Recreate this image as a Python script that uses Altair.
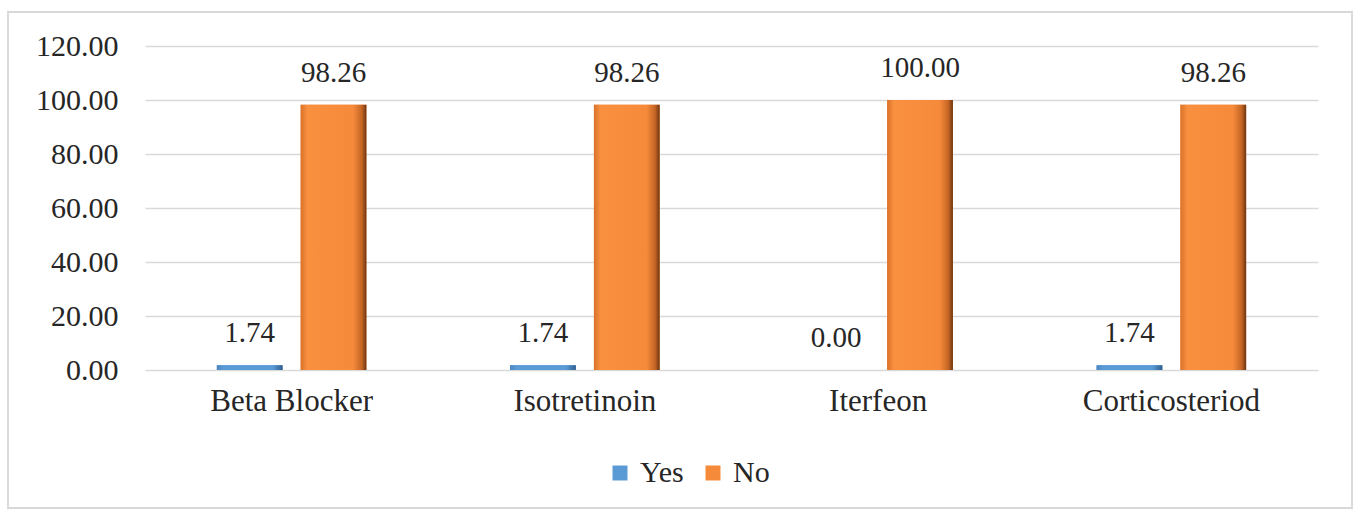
import altair as alt
import pandas as pd

categories = ["Beta Blocker", "Isotretinoin", "Iterfeon", "Corticosteriod"]
yes_values = [1.74, 1.74, 0.00, 1.74]
no_values = [98.26, 98.26, 100.00, 98.26]
series_names = ["Yes", "No"]
y_ticks = [0, 20, 40, 60, 80, 100, 120]

rows = []
for c, y, n in zip(categories, yes_values, no_values):
    rows.append({"Category": c, "Series": "Yes", "Value": y})
    rows.append({"Category": c, "Series": "No", "Value": n})
df = pd.DataFrame(rows)

FONT = "Liberation Serif"
BLUE = "#5B9BD5"
ORANGE = "#F68A3B"
TXT = "#262626"

x_enc = alt.X("Category:N", sort=categories,
              scale=alt.Scale(paddingInner=0.49, paddingOuter=0.245),
              axis=alt.Axis(title=None, labelAngle=0, labelFont=FONT, labelFontSize=31,
                            labelColor=TXT, labelPadding=16, ticks=False, domain=False,
                            grid=False))
xoff = alt.XOffset("Series:N", sort=series_names,
                   scale=alt.Scale(paddingInner=0.216, paddingOuter=0))
y_enc = alt.Y("Value:Q", scale=alt.Scale(domain=[0, 120], nice=False),
              axis=alt.Axis(title=None, values=y_ticks, format=".2f", labelFont=FONT,
                            labelFontSize=30, labelColor=TXT, labelPadding=27,
                            ticks=False, domain=False, gridColor="#d9d9d9",
                            gridWidth=1.6))

base = alt.Chart(df)

bars = base.mark_bar().encode(
    x=x_enc, xOffset=xoff, y=y_enc,
    color=alt.Color("Series:N", sort=series_names,
                    scale=alt.Scale(domain=series_names, range=[BLUE, ORANGE]),
                    legend=alt.Legend(title=None, orient="none", direction="horizontal",
                                      legendX=460, legendY=412, labelFont=FONT,
                                      labelFontSize=30, labelColor=TXT,
                                      symbolType="square", symbolSize=225,
                                      symbolStrokeWidth=0, labelOffset=5,
                                      columnPadding=14, padding=0)),
)

orange_grad = alt.Gradient(
    gradient="linear", x1=0, x2=1, y1=0, y2=0,
    stops=[alt.GradientStop(color="#d9712a", offset=0),
           alt.GradientStop(color="#f8903f", offset=0.1),
           alt.GradientStop(color="#f68a3b", offset=0.8),
           alt.GradientStop(color="#c46524", offset=0.93),
           alt.GradientStop(color="#6e3510", offset=1)])
blue_grad = alt.Gradient(
    gradient="linear", x1=0, x2=1, y1=0, y2=0,
    stops=[alt.GradientStop(color="#4a86c0", offset=0),
           alt.GradientStop(color="#5B9BD5", offset=0.1),
           alt.GradientStop(color="#5B9BD5", offset=0.85),
           alt.GradientStop(color="#2f5f8f", offset=1)])

no_overlay = base.transform_filter(alt.datum.Series == "No").mark_bar(
    color=orange_grad).encode(x=x_enc, xOffset=xoff, y=y_enc)
yes_overlay = base.transform_filter(alt.datum.Series == "Yes").mark_bar(
    color=blue_grad).encode(x=x_enc, xOffset=xoff, y=y_enc)

labels = base.mark_text(font=FONT, fontSize=29, color=TXT, baseline="alphabetic",
                        dy=-23).encode(
    x=x_enc, xOffset=xoff, y=y_enc,
    text=alt.Text("Value:Q", format=".2f"),
)

frame = alt.Chart(pd.DataFrame({"a": [0]})).mark_rect(
    fill="transparent", stroke="#d9d9d9", strokeWidth=2).encode(
    x=alt.value(-137), x2=alt.value(1207), y=alt.value(-34), y2=alt.value(462))

chart = alt.layer(frame, bars, no_overlay, yes_overlay, labels).properties(
    width=1173, height=324,
    autosize=alt.AutoSizeParams(type="none"),
    padding={"left": 145, "top": 46, "right": 35, "bottom": 143},
    background="white",
).configure_view(stroke="transparent")

chart.save("out.html", embed_options={"renderer": "svg", "actions": False})
